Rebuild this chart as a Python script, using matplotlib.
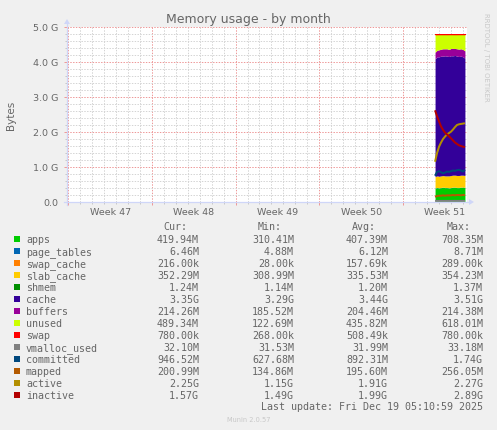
import numpy as np
import matplotlib
matplotlib.use("Agg")
import matplotlib.pyplot as plt
from matplotlib.lines import Line2D
from matplotlib.patches import Polygon, Rectangle
from matplotlib.ticker import FixedLocator, MultipleLocator, NullFormatter

# --- data (GiB), one sample every 4 hours over the last ~2.5 days ---
start_day = 30.8
step_days = 4 / 24
n = 16

apps = [0.40, 0.41, 0.40, 0.41, 0.42, 0.41, 0.41, 0.40, 0.41, 0.42, 0.42, 0.41, 0.41, 0.42, 0.42, 0.41]
page_tables = [0.0055, 0.0058, 0.0060, 0.0061, 0.0060, 0.0062, 0.0060, 0.0061,
               0.0063, 0.0062, 0.0061, 0.0060, 0.0062, 0.0063, 0.0064, 0.0063]
swap_cache = [0.0002, 0.0002, 0.0001, 0.0001, 0.0002, 0.0002, 0.0001, 0.0002,
              0.0002, 0.0001, 0.0001, 0.0002, 0.0002, 0.0002, 0.0002, 0.0002]
slab_cache = [0.32, 0.33, 0.33, 0.33, 0.33, 0.33, 0.33, 0.34, 0.34, 0.34, 0.34, 0.34, 0.34, 0.34, 0.34, 0.34]
shmem = [0.0012, 0.0011, 0.0012, 0.0012, 0.0012, 0.0012, 0.0011, 0.0012,
         0.0012, 0.0012, 0.0013, 0.0012, 0.0012, 0.0012, 0.0012, 0.0012]
cache = [3.36, 3.40, 3.41, 3.42, 3.41, 3.43, 3.42, 3.41, 3.42, 3.41, 3.42, 3.41, 3.40, 3.40, 3.38, 3.35]
buffers = [0.19, 0.19, 0.20, 0.20, 0.21, 0.20, 0.21, 0.20, 0.21, 0.21, 0.20, 0.21, 0.21, 0.21, 0.21, 0.21]
unused = [0.52, 0.46, 0.45, 0.43, 0.42, 0.42, 0.42, 0.44, 0.41, 0.41, 0.41, 0.42, 0.43, 0.42, 0.44, 0.48]
swap = [0.0007, 0.0007, 0.0006, 0.0005, 0.0005, 0.0004, 0.0004, 0.0005,
        0.0005, 0.0004, 0.0004, 0.0005, 0.0006, 0.0007, 0.0007, 0.0007]

vmalloc_used = [0.031, 0.031, 0.031, 0.031, 0.031, 0.031, 0.031, 0.031,
                0.031, 0.031, 0.032, 0.031, 0.031, 0.031, 0.031, 0.031]
committed = [0.75, 0.86, 0.88, 0.85, 0.82, 0.84, 0.87, 0.86, 0.88, 0.90, 0.89, 0.91, 0.92, 0.90, 0.87, 0.92]
mapped = [0.15, 0.17, 0.18, 0.18, 0.19, 0.18, 0.19, 0.19, 0.19, 0.20, 0.19, 0.20, 0.20, 0.19, 0.20, 0.20]
active = [1.15, 1.40, 1.58, 1.70, 1.80, 1.87, 1.93, 1.97, 2.01, 2.07, 2.14, 2.20, 2.22, 2.23, 2.24, 2.25]
inactive = [2.62, 2.45, 2.30, 2.16, 2.06, 1.98, 1.93, 1.88, 1.82, 1.76, 1.70, 1.66, 1.62, 1.60, 1.58, 1.57]

names = ["apps", "page_tables", "swap_cache", "slab_cache", "shmem", "cache", "buffers",
         "unused", "swap", "vmalloc_used", "committed", "mapped", "active", "inactive"]
colors = ["#00CC00", "#0066B3", "#FF8000", "#FFCC00", "#008F00", "#330099", "#990099",
          "#CCFF00", "#FF0000", "#808080", "#00487D", "#B35A00", "#B38F00", "#B30000"]
cur_vals = ["419.94M", "6.46M", "216.00k", "352.29M", "1.24M", "3.35G", "214.26M",
            "489.34M", "780.00k", "32.10M", "946.52M", "200.99M", "2.25G", "1.57G"]
min_vals = ["310.41M", "4.88M", "28.00k", "308.99M", "1.14M", "3.29G", "185.52M",
            "122.69M", "268.00k", "31.53M", "627.68M", "134.86M", "1.15G", "1.49G"]
avg_vals = ["407.39M", "6.12M", "157.69k", "335.53M", "1.20M", "3.44G", "204.46M",
            "435.82M", "508.49k", "31.99M", "892.31M", "195.60M", "1.91G", "1.99G"]
max_vals = ["708.35M", "8.71M", "289.00k", "354.23M", "1.37M", "3.51G", "214.38M",
            "618.01M", "780.00k", "33.18M", "1.74G", "256.05M", "2.27G", "2.89G"]
weeks = ["Week 47", "Week 48", "Week 49", "Week 50", "Week 51"]

W, H = 497, 431
FONT = "#666666"
AXIS = "#CFD6F8"


def fx(px):
    return px / W


def fy(py):
    return 1 - py / H


fig = plt.figure(figsize=(W / 100, H / 100), dpi=100, facecolor="#F0F0F0")
ax = fig.add_axes([fx(67), fy(203), 400 / W, 175 / H])
ax.set_facecolor("white")

x = start_day + np.arange(n) * step_days
areas = [apps, page_tables, swap_cache, slab_cache, shmem, cache, buffers, unused, swap]
base = np.zeros(n)
for i, vals in enumerate(areas):
    top = base + np.array(vals)
    if names[i] == "swap":
        ax.fill_between(x, base, top, color=colors[i], lw=0.8, zorder=3)
    else:
        ax.fill_between(x, base, top, color=colors[i], lw=0, zorder=3)
    base = top

lines = [vmalloc_used, committed, mapped, active, inactive]
for j, vals in enumerate(lines):
    ax.plot(x, vals, color=colors[9 + j], lw=1.44, zorder=4, solid_capstyle="butt")

# axes, grid
days_per_px = 1 / 11.95
week0 = 1.3 * days_per_px
ax.set_xlim(0, 400 * days_per_px)
ax.set_ylim(0, 5.0)
ax.xaxis.set_major_locator(FixedLocator(week0 + 7 * np.arange(5)))
ax.xaxis.set_minor_locator(FixedLocator(week0 + np.arange(34)))
ax.xaxis.set_major_formatter(NullFormatter())
ax.yaxis.set_major_locator(MultipleLocator(1.0))
ax.yaxis.set_minor_locator(MultipleLocator(0.2))
ax.yaxis.set_major_formatter(lambda v, p: "0.0" if v == 0 else f"{v:.1f} G")
ax.grid(which="minor", color="#D4D4D4", lw=0.72, ls=(0, (1.4, 1.4)), zorder=1)
ax.grid(which="major", color="#EE9999", lw=0.72, ls=(0, (1.4, 1.4)), zorder=2)
ax.set_axisbelow(True)
ax.tick_params(which="major", length=2.5, width=0.72, color="#EE9999", labelsize=6.8,
               labelcolor=FONT, pad=3.5)
ax.tick_params(which="minor", length=1.5, width=0.72, color="#C8C8C8")
for s in ax.spines.values():
    s.set_visible(False)

for k, w in enumerate(weeks):
    ax.annotate(w, xy=(week0 + 7 * k + 3.5, 0), xycoords=("data", "axes fraction"),
                xytext=(0, -5), textcoords="offset pixels", ha="center", va="top",
                fontsize=6.8, color=FONT)

# axis lines with arrows
fig.add_artist(Line2D([fx(67), fx(67)], [fy(206), fy(24)], color=AXIS, lw=0.9))
fig.add_artist(Line2D([fx(64), fx(470)], [fy(203), fy(203)], color=AXIS, lw=0.9))
fig.add_artist(Polygon([(fx(64), fy(25)), (fx(70), fy(25)), (fx(67), fy(20))],
                       closed=True, color=AXIS, lw=0))
fig.add_artist(Polygon([(fx(469), fy(200)), (fx(469), fy(206)), (fx(474), fy(203))],
                       closed=True, color=AXIS, lw=0))

fig.text(fx(248.5), fy(19), "Memory usage - by month", ha="center", va="center",
         fontsize=9, color=FONT)
fig.text(fx(11), fy(115), "Bytes", rotation=90, ha="center", va="center",
         fontsize=7.5, color=FONT)
fig.text(fx(486), fy(13), "RRDTOOL / TOBI OETIKER", rotation=270, ha="center", va="top",
         fontsize=5.0, color="#C8C8C8")

# legend table
mono = dict(family="DejaVu Sans Mono", fontsize=7.2, color=FONT, va="baseline")
hy = 230.5
fig.text(fx(163), fy(hy), "Cur:", ha="left", **mono)
fig.text(fx(258), fy(hy), "Min:", ha="left", **mono)
fig.text(fx(352), fy(hy), "Avg:", ha="left", **mono)
fig.text(fx(447), fy(hy), "Max:", ha="left", **mono)
for i, name in enumerate(names):
    row = 240 + 12 * i
    fig.add_artist(Rectangle((fx(14), fy(row + 3)), 6 / W, 6 / H, color=colors[i], lw=0))
    fig.text(fx(26), fy(row + 3.3), name, ha="left", **mono)
    fig.text(fx(199), fy(row + 3.3), cur_vals[i], ha="right", **mono)
    fig.text(fx(294), fy(row + 3.3), min_vals[i], ha="right", **mono)
    fig.text(fx(388), fy(row + 3.3), avg_vals[i], ha="right", **mono)
    fig.text(fx(483), fy(row + 3.3), max_vals[i], ha="right", **mono)

fig.text(fx(483), fy(410), "Last update: Fri Dec 19 05:10:59 2025", ha="right", **mono)
fig.text(fx(248.5), fy(420), "Munin 2.0.57", ha="center", va="center",
         fontsize=4.8, color="#C8C8C8")

fig.savefig("out.png", dpi=100, facecolor=fig.get_facecolor())
